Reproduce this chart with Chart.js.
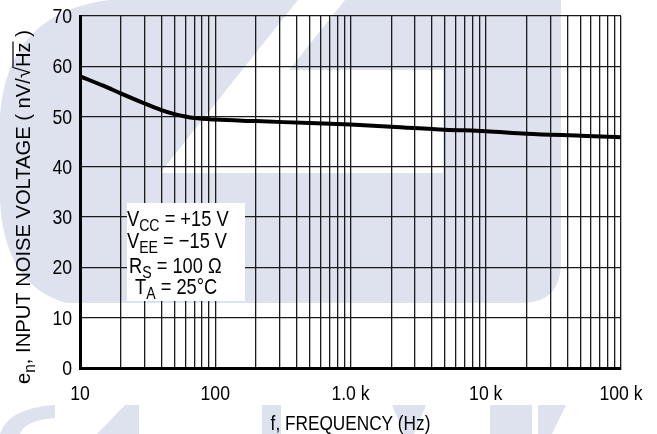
<!DOCTYPE html>
<html>
<head>
<meta charset="utf-8">
<script src="https://cdn.jsdelivr.net/npm/chart.js@4.4.0/dist/chart.umd.min.js"></script>
<style>
html, body { margin: 0; padding: 0; background: #fff; }
</style>
</head>
<body>
<canvas id="chart" width="657" height="434"></canvas>
<script>
// data
const freqs = [10, 15, 20, 30, 40, 50, 60, 70, 100, 200, 500, 1000, 2000, 5000, 10000, 20000, 50000, 100000];
const noise = [58, 56.1, 54.6, 52.6, 51.3, 50.5, 50, 49.7, 49.4, 49.1, 48.7, 48.4, 48, 47.4, 47.1, 46.6, 46.2, 45.9];

const decades = [10, 100, 1000, 10000, 100000];
const decadeLabels = ['10', '100', '1.0 k', '10 k', '100 k'];
const yTicks = [0, 10, 20, 30, 40, 50, 60, 70];

// test conditions box: [symbol, subscript, rest]
const conditions = [
    ['V', 'CC', ' = +15 V'],
    ['V', 'EE', ' = \u221215 V'],
    ['R', 'S', ' = 100 \u03A9'],
    ['T', 'A', ' = 25\u00B0C']
];
const xTitle = 'f, FREQUENCY (Hz)';

const FONT = '"Liberation Sans", Arial, sans-serif';

// minor log ticks 1..9 per decade
let logTicks = [];
decades.forEach((d, i) => {
    if (i === decades.length - 1) { logTicks.push(d); return; }
    for (let m = 1; m < 10; m++) logTicks.push(d * m);
});

// condensed text (the scan uses a narrow Helvetica)
function narrowText(c, text, x, y, size, sx, align) {
    c.save();
    c.font = size + 'px ' + FONT;
    const w = c.measureText(text).width * sx;
    let x0 = x;
    if (align === 'center') x0 = x - w / 2;
    if (align === 'right') x0 = x - w;
    c.translate(x0, y);
    c.scale(sx, 1);
    c.textAlign = 'left';
    c.textBaseline = 'alphabetic';
    c.fillText(text, 0, 0);
    c.restore();
    return w;
}

// faint logo in the background of the datasheet scan
const watermark = {
    id: 'watermark',
    beforeDraw(chart) {
        const c = chart.ctx;
        c.save();
        c.fillStyle = '#dde2ee';
        c.beginPath();
        c.moveTo(110, 0); c.lineTo(561, 0); c.lineTo(561, 262);
        c.quadraticCurveTo(561, 303, 522, 303); c.lineTo(66, 303);
        c.quadraticCurveTo(4, 285, 0, 200); c.lineTo(0, 115);
        c.quadraticCurveTo(8, 12, 110, 0);
        c.closePath(); c.fill();
        // bottom row pieces
        c.beginPath();
        c.moveTo(0, 434); c.quadraticCurveTo(8, 408, 55, 405); c.lineTo(55, 418);
        c.quadraticCurveTo(25, 420, 20, 434); c.closePath(); c.fill();
        c.beginPath();
        c.moveTo(97, 434); c.lineTo(125, 405); c.lineTo(139, 405); c.lineTo(139, 434); c.closePath(); c.fill();
        c.fillRect(262, 405, 19, 29);
        c.beginPath();
        c.moveTo(392, 405); c.lineTo(426, 405); c.lineTo(414, 434); c.lineTo(404, 434); c.closePath(); c.fill();
        c.fillRect(490, 405, 42, 29);
        c.beginPath();
        c.moveTo(538, 405); c.lineTo(566, 405); c.lineTo(552, 434); c.lineTo(538, 434); c.closePath(); c.fill();
        // white cut-outs
        c.fillStyle = '#fff';
        c.beginPath();
        c.moveTo(298, 0); c.lineTo(345, 0); c.lineTo(289, 70); c.lineTo(443, 70);
        c.lineTo(443, 173); c.lineTo(160, 173); c.closePath(); c.fill();
        c.restore();
    }
};

const annotations = {
    id: 'annotations',
    afterDraw(chart) {
        const c = chart.ctx;
        const xs = chart.scales.x, ys = chart.scales.y;
        c.save();
        c.fillStyle = '#000';

        // tick labels, placed by the chart's own scales
        decades.forEach((d, i) => {
            narrowText(c, decadeLabels[i], xs.getPixelForValue(d), 400, 21, 0.84, 'center');
        });
        yTicks.forEach(v => {
            narrowText(c, String(v), 72, ys.getPixelForValue(v) + 7, 21, 0.84, 'right');
        });
        narrowText(c, xTitle, (xs.left + xs.right) / 2, 430, 21, 0.82, 'center');

        // conditions box
        c.fillStyle = '#fff';
        c.fillRect(127, 203, 118, 98);
        c.fillStyle = '#000';
        const base = [226, 248, 273, 294];
        const left = [127, 127, 129, 135];
        conditions.forEach((row, i) => {
            let x = left[i];
            x += narrowText(c, row[0], x, base[i], 22, 0.83);
            x += narrowText(c, row[1], x, base[i] + 5, 17, 0.83);
            narrowText(c, row[2], x, base[i], 22, 0.83);
        });

        // y axis title with subscript and root overline
        c.translate(30, 207);
        c.rotate(-Math.PI / 2);
        const parts = [
            { t: 'e', s: 21, dy: 0 },
            { t: 'n', s: 16, dy: 5 },
            { t: ', INPUT NOISE VOLTAGE ( nV/\u221A', s: 21, dy: 0 },
            { t: 'Hz', s: 21, dy: 0, over: true },
            { t: ' )', s: 21, dy: 0 }
        ];
        const sx = 0.96;
        let total = 0;
        parts.forEach(p => { c.font = p.s + 'px ' + FONT; p.w = c.measureText(p.t).width * sx; total += p.w; });
        let x = -total / 2;
        parts.forEach(p => {
            narrowText(c, p.t, x, p.dy, p.s, sx);
            if (p.over) {
                c.lineWidth = 1.2;
                c.beginPath(); c.moveTo(x - 1, -17); c.lineTo(x + p.w + 1, -17); c.stroke();
            }
            x += p.w;
        });
        c.restore();
    }
};

const ctx = document.getElementById('chart').getContext('2d');
const chart = new Chart(ctx, {
    type: 'line',
    data: {
        datasets: [{
            data: freqs.map((f, i) => ({ x: f, y: noise[i] })),
            borderColor: '#000',
            borderWidth: 4,
            pointRadius: 0,
            cubicInterpolationMode: 'monotone',
            fill: false
        }]
    },
    options: {
        responsive: false,
        animation: false,
        layout: { padding: { top: 16, right: 36, left: 0, bottom: 0 } },
        plugins: { legend: { display: false }, tooltip: { enabled: false } },
        scales: {
            x: {
                type: 'logarithmic',
                min: 10,
                max: 100000,
                afterBuildTicks: s => { s.ticks = logTicks.map(v => ({ value: v })); },
                afterFit: s => { s.height = 66; },
                grid: { color: '#1a1a1a', lineWidth: 1.3, drawTicks: false },
                border: { color: '#000', width: 3 },
                ticks: { display: false, autoSkip: false }
            },
            y: {
                min: 0,
                max: 70,
                afterFit: s => { s.width = 80; },
                grid: { color: '#1a1a1a', lineWidth: 1.3, drawTicks: false },
                border: { color: '#000', width: 3 },
                ticks: { display: false, stepSize: 10 }
            }
        }
    },
    plugins: [watermark, annotations]
});
</script>
</body>
</html>
